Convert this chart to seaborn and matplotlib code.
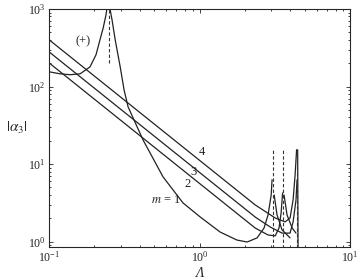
import matplotlib
matplotlib.use('Agg')
from matplotlib import pyplot as plt
import seaborn as sns

# m = 1 : branch (+) left of the first pole
plus_lam = [0.1, 0.118, 0.138, 0.161, 0.187, 0.205, 0.218, 0.229, 0.239, 0.242]
plus_amp = [155, 146, 142, 146, 179, 256, 401, 572, 841, 1000]

# m = 1 : main branch right of the first pole
m1_lam = [0.254, 0.262, 0.275, 0.297, 0.315, 0.335, 0.421, 0.572, 0.776, 1.01,
          1.37, 1.77, 2.07, 2.41, 2.68, 2.85, 2.99, 3.03]
m1_amp = [1000, 726, 401, 179, 90.6, 54.7, 20.5, 6.84, 3.16, 2.08,
          1.33, 1.05, 0.99, 1.12, 1.50, 2.21, 4.0, 6.3]

m2_lam = [0.1, 2.34, 2.85, 3.18, 3.37, 3.48, 3.56]
m2_amp = [202, 1.50, 1.22, 1.19, 1.50, 2.35, 4.25]

m3_lam = [0.1, 2.34, 2.94, 3.53, 3.99, 4.18, 4.37, 4.44]
m3_amp = [280, 2.08, 1.55, 1.29, 1.29, 1.80, 3.45, 6.25]

m4_lam = [0.1, 2.34, 3.18, 3.70, 3.99, 4.18, 4.31, 4.41]
m4_amp = [401, 2.98, 2.02, 1.80, 2.02, 3.45, 7.26, 15.3]

# branches falling off the right-hand poles
fall1_lam = [3.13, 3.27, 3.53, 3.99]
fall1_amp = [4.0, 2.21, 1.42, 1.12]
fall2_lam = [3.64, 3.81, 4.12, 4.37]
fall2_amp = [4.0, 2.21, 1.50, 1.29]
fall3_lam = [4.48, 4.51]
fall3_amp = [15.3, 0.84]

# pole positions (dashed asymptotes)
pole_lam = [0.251, 3.08, 3.59, 4.45]
pole_lo = [200, 0.84, 0.84, 0.84]
pole_hi = [1000, 15.3, 15.3, 15.3]

labels = ['(+)', '4', '3', '2', '$m$ = 1']
label_lam = [0.168, 1.04, 0.918, 0.826, 0.60]
label_amp = [378, 14.4, 7.9, 5.55, 3.45]

sns.set_style('ticks')
plt.rcParams['font.family'] = ['Liberation Serif', 'DejaVu Serif']
plt.rcParams['mathtext.fontset'] = 'stix'

fig = plt.figure(figsize=(3.58, 2.80), dpi=100)
ax = fig.add_axes([0.137, 0.118, 0.841, 0.850])

curves = [(plus_lam, plus_amp), (m1_lam, m1_amp), (m2_lam, m2_amp),
          (m3_lam, m3_amp), (m4_lam, m4_amp), (fall1_lam, fall1_amp),
          (fall2_lam, fall2_amp), (fall3_lam, fall3_amp)]
for xs, ys in curves:
    sns.lineplot(x=xs, y=ys, sort=False, estimator=None, ax=ax,
                 color='#222222', lw=0.9)

for lam, lo, hi in zip(pole_lam, pole_lo, pole_hi):
    ax.plot([lam, lam], [lo, hi], color='#333333', lw=0.8, ls=(0, (3, 2)))

for txt, lx, ly in zip(labels, label_lam, label_amp):
    ax.text(lx, ly, txt, fontsize=9, ha='center', va='center', color='#222222')

ax.set_xscale('log')
ax.set_yscale('log')
ax.set_xlim(0.1, 10)
ax.set_ylim(0.855, 1000)
ax.tick_params(which='both', direction='in', top=True, right=True,
               labelsize=8.5, width=0.6, colors='#222222')
ax.tick_params(which='major', length=3, pad=2.5)
ax.tick_params(which='minor', length=1.5)
for s in ax.spines.values():
    s.set_linewidth(0.8)

ax.set_xlabel('Λ', fontsize=10, style='italic', va='center')
ax.xaxis.set_label_coords(0.5, -0.11)
ax.set_ylabel('$|\\alpha_3|$', fontsize=11, rotation=0, va='center', ha='center')
ax.yaxis.set_label_coords(-0.108, 0.5)

fig.savefig('out.png', dpi=100)
